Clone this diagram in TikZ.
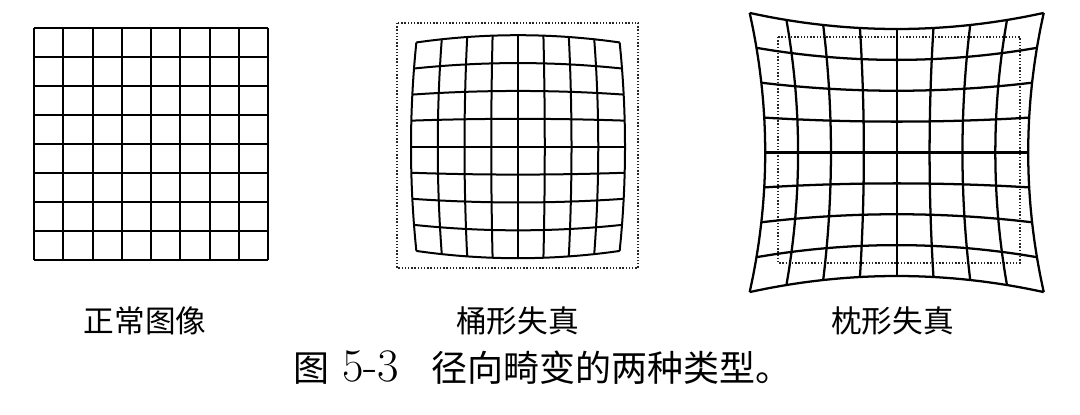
\documentclass[tikz,border=0pt]{standalone}
\usepackage{fontspec}
\newfontfamily\cjk{Noto Sans CJK SC}
\newfontfamily\lmr{Latin Modern Roman}
\begin{document}
\begin{tikzpicture}[x=0.75pt,y=-0.75pt,
  gridline/.style={line width=1.5pt,black},
  warpline/.style={line width=1.5pt,black,line join=round},
  pinline/.style={line width=1.7pt,black,line join=round},
  dotbox/.style={line width=1.1pt,dash pattern=on 1.1pt off 1.3pt,black!85},
  label/.style={inner sep=0pt,font=\cjk\fontsize{23}{27}\selectfont},
  captext/.style={inner sep=0pt,anchor=base west,font=\cjk\fontsize{27}{32}\selectfont}]
\useasboundingbox (0,0) rectangle (1080,414);
% ---- normal grid ----
\foreach \i in {0,...,8}{
  \draw[gridline] ({34+\i*29.25},28) -- ({34+\i*29.25},260);
  \draw[gridline] (34,{28+\i*29}) -- (268,{28+\i*29});
}
% ---- barrel distortion ----
\draw[dotbox] (397,23) rectangle (638,268);
\foreach \v in {-1,-0.75,-0.5,-0.25,0,0.25,0.5,0.75,1}{
  \draw[warpline] plot[smooth,domain=-1:1,samples=17,variable=\u]
    ({518+107*(\u)*(1-0.05*(\v)*(\v))},{146.7+111.5*(\v)*(1-0.065*(\u)*(\u))});
  \draw[warpline] plot[smooth,domain=-1:1,samples=17,variable=\w]
    ({518+107*(\v)*(1-0.05*(\w)*(\w))},{146.7+111.5*(\w)*(1-0.065*(\v)*(\v))});
}
% ---- pincushion distortion ----
\draw[dotbox] (778,37) rectangle (1020,263);
\foreach \v in {-1,-0.75,-0.5,-0.25,0,0.25,0.5,0.75,1}{
  \draw[pinline] plot[smooth,domain=-1:1,samples=17,variable=\u]
    ({896.7+131.5*(\u)*(1+0.118*(\v)*(\v))},{152.5+123.5*(\v)*(1+0.13*(\u)*(\u))});
  \draw[pinline] plot[smooth,domain=-1:1,samples=17,variable=\w]
    ({896.7+131.5*(\v)*(1+0.118*(\w)*(\w))},{152.5+123.5*(\w)*(1+0.13*(\v)*(\v))});
}
% ---- labels ----
\node[label] (lnormal) at (145,320.5) {正常图像};
\node[label] (lbarrel) at (517.5,320.5) {桶形失真};
\node[label] (lpin) at (892.5,320.5) {枕形失真};
% ---- caption ----
\node[captext,anchor=base] (cfig) at (311,381) {图};
\node[inner sep=0pt,anchor=base west] (cnum) at (342,381) {\scalebox{1.4}{\lmr\fontsize{25}{30}\selectfont 5-3}};
\node[captext] (ctext) at (431,381) {径向畸变的两种类型。};
\end{tikzpicture}
\end{document}
